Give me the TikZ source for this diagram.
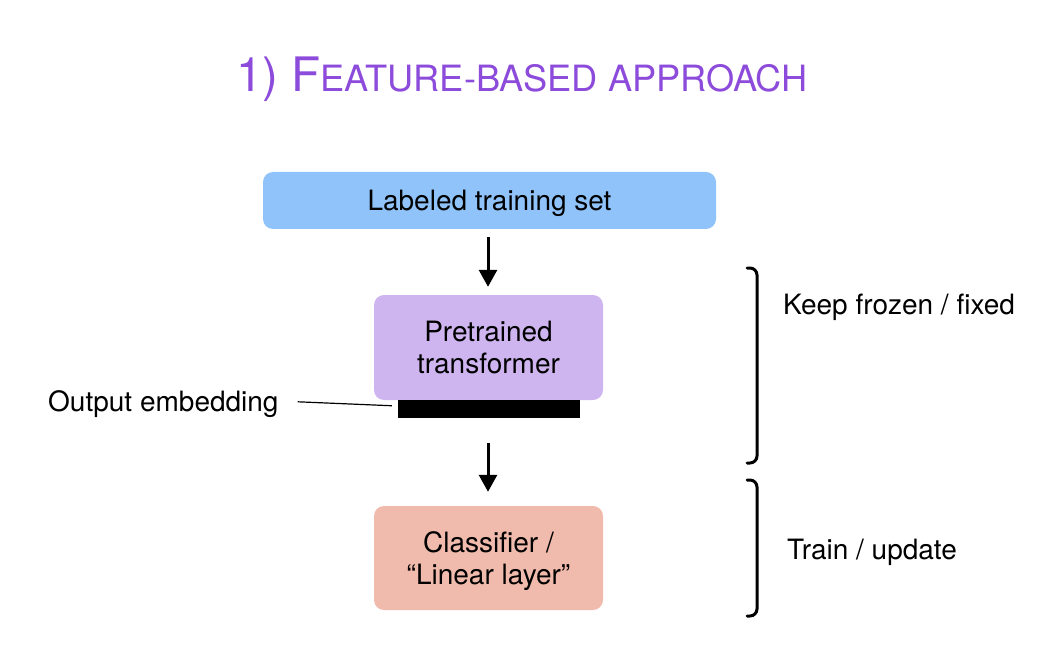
\documentclass[tikz,border=0pt]{standalone}
\usepackage{fontspec}
\setmainfont{TeX Gyre Heros}
\usetikzlibrary{arrows.meta}
\definecolor{titlepurple}{HTML}{8C4BDA}
\definecolor{boxblue}{HTML}{8FC3FA}
\definecolor{boxlav}{HTML}{CFB5EF}
\definecolor{boxsalmon}{HTML}{F0BBAC}
\tikzset{
  box/.style={rounded corners=10pt, inner sep=0pt, align=center, text depth=0pt, font=\fontsize{28}{32}\selectfont, text=black},
  flowarrow/.style={line width=3pt, -{Triangle[width=18pt,length=17pt]}},
  bracketline/.style={line width=3pt, rounded corners=7pt, line cap=round},
  sidelabel/.style={anchor=west, inner sep=0pt, text depth=0pt, font=\fontsize{28}{32}\selectfont}
}
\begin{document}
\begin{tikzpicture}[x=1pt,y=-1pt]
\useasboundingbox (0,0) rectangle (1040,660);
% title
\node[text=titlepurple, anchor=base, inner sep=0pt] (title) at (522,92)
  {\fontsize{47.5}{50}\selectfont 1) F\fontsize{36.2}{40}\selectfont EATURE-BASED APPROACH};
% boxes
\node[box, fill=boxblue, minimum width=453pt, minimum height=57pt] (train) at (489.5,200.5) {Labeled training set};
\node[box, fill=boxlav, minimum width=229pt, minimum height=105pt] (pre) at (488.5,347.5) {Pretrained\\transformer};
\node[fill=black, inner sep=0pt, minimum width=182pt, minimum height=18pt] (bar) at (489,409) {};
\node[box, fill=boxsalmon, minimum width=229pt, minimum height=104pt] (cls) at (488.5,558) {Classifier /\\“Linear layer”};
% arrows
\draw[flowarrow, shorten <=8pt, shorten >=8pt] (train.south -| 488,0) -- (pre.north -| 488,0);
\draw[flowarrow, shorten <=25pt, shorten >=14pt] (bar.south -| 488,0) -- (cls.north -| 488,0);
% output embedding label
\node[sidelabel, anchor=west] (oe) at (48,401) {Output embedding};
\draw[line width=1.2pt, shorten <=19pt, shorten >=6pt] (oe.east) -- ([yshift=3pt]bar.west);
% brackets
\draw[bracketline] (747,268) -- (757,268) -- (757,463) -- (747,463);
\draw[bracketline] (747,480) -- (757,480) -- (757,616) -- (747,616);
\node[sidelabel] (keep) at (783,304) {Keep frozen / fixed};
\node[sidelabel] (trainup) at (787,549) {Train / update};
\end{tikzpicture}
\end{document}
